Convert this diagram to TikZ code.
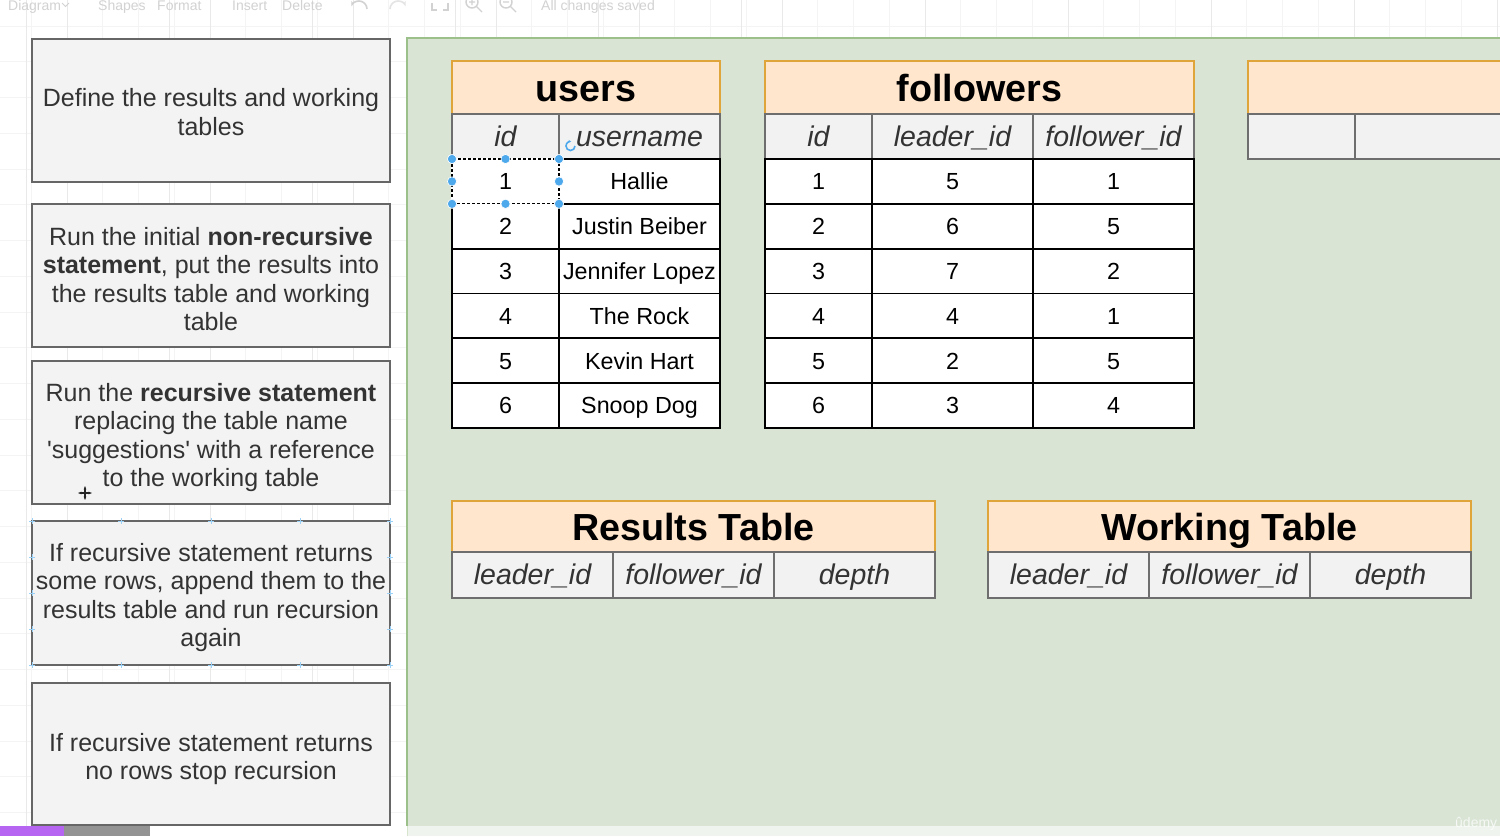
\documentclass[tikz,border=0pt]{standalone}
\usepackage{fontspec}
\setmainfont{Liberation Sans}
\newfontfamily\plainquote{Liberation Sans}
\usetikzlibrary{arrows.meta}
\newcommand\mysz[2]{\fontsize{#1pt}{#2pt}\selectfont}
\newcommand\sq{{\plainquote\symbol{39}}}
\definecolor{boxfill}{HTML}{F3F3F3}
\definecolor{boxline}{HTML}{666666}
\definecolor{boxtext}{HTML}{333333}
\definecolor{greenbg}{RGB}{217,228,213}
\definecolor{greenline}{HTML}{9CC089}
\definecolor{hdrfill}{HTML}{FFE6CC}
\definecolor{hdrline}{HTML}{DFA43A}
\definecolor{colfill}{HTML}{F2F2F2}
\definecolor{colline}{HTML}{6E6E6E}
\definecolor{selblue}{HTML}{4DA9EC}
\definecolor{tbgray}{HTML}{D2D2D2}
\definecolor{gridminor}{HTML}{F4F4F4}
\definecolor{gridmajor}{HTML}{E9E9E9}
\definecolor{barpurple}{HTML}{B565F2}
\begin{document}
\begin{tikzpicture}[x=1pt,y=-1pt,
  leftbox/.style={draw=boxline, fill=boxfill, line width=1.6pt, inner sep=0pt, outer sep=0pt,
    minimum width=358pt, minimum height=#1, anchor=north west},
  steptext/.style={inner sep=0pt, align=center, text=boxtext, font=\mysz{25}{28.5}},
  hdr/.style={draw=hdrline, fill=hdrfill, line width=1.5pt, inner sep=0pt, outer sep=0pt,
    anchor=north west, text height=27pt, text depth=0pt, font=\bfseries\mysz{37.7}{40}},
  colhdr/.style={draw=colline, fill=colfill, line width=1.5pt, inner sep=0pt, outer sep=0pt,
    anchor=north west, minimum height=45pt, text height=19pt, text depth=0pt,
    text=boxtext, font=\itshape\mysz{28.5}{30}},
  datacell/.style={draw=black, fill=white, line width=1.8pt, inner sep=0pt, outer sep=0pt,
    anchor=north west, minimum height=44.83pt, text height=16.7pt, text depth=0pt,
    font=\mysz{23.3}{26}},
  tbtext/.style={anchor=base west, inner sep=0pt, text=tbgray, font=\mysz{14}{16}},
  handle/.style={fill=selblue, draw=white, line width=0.6pt},
  tick/.style={draw=selblue!55, line width=0.8pt}
]
\useasboundingbox (0,0) rectangle (1500,836);
\clip (0,0) rectangle (1500,836);
% background and grid
\fill[white] (0,0) rectangle (1500,836);
\foreach \k in {0,...,41} {\draw[gridminor, line width=0.8pt] ({31.25+35.75*\k},0) -- ({31.25+35.75*\k},836);}
\foreach \k in {0,...,22} {\draw[gridminor, line width=0.8pt] (0,{26+35.75*\k}) -- (1500,{26+35.75*\k});}
\foreach \k in {0,...,10} {\draw[gridmajor, line width=0.8pt] ({67+143*\k},0) -- ({67+143*\k},836);}
\foreach \k in {0,...,5} {\draw[gridmajor, line width=0.8pt] ({26+143*\k},0) -- ({26+143*\k},836);}

% toolbar (faint)
\node[tbtext] (tb1) at (8,10) {Diagram};
\draw[tbgray, line width=1pt] (62,3) -- (65.5,6.5) -- (69,3);
\node[tbtext] (tb2) at (98,10) {Shapes};
\node[tbtext] (tb3) at (157,10) {Format};
\node[tbtext] (tb4) at (232,10) {Insert};
\node[tbtext] (tb5) at (282,10) {Delete};
\draw[tbgray, line width=1.6pt, -{Stealth[length=5pt]}] (367,9) arc[start angle=0, end angle=-160, radius=8];
\draw[tbgray!60, line width=1.6pt, -{Stealth[length=5pt]}] (390,9) arc[start angle=180, end angle=340, radius=8];
\draw[tbgray, line width=1.4pt] (432,3) -- (432,10) -- (437,10) (443,10) -- (448,10) -- (448,3);
\draw[tbgray, line width=1.4pt] (472,2) circle[radius=6] (476,6) -- (482,12) (469,2) -- (475,2) (472,-1) -- (472,5);
\draw[tbgray, line width=1.4pt] (506,2) circle[radius=6] (510,6) -- (516,12) (503,2) -- (509,2);
\node[tbtext] (tb6) at (541,10) {All changes saved};

% left step boxes
\node[leftbox=143pt] (b1) at (32,39) {};
\node[leftbox=143pt] (b2) at (32,204) {};
\node[leftbox=143pt] (b3) at (32,361) {};
\node[leftbox=144pt] (b4) at (32,521) {};
\node[leftbox=142pt] (b5) at (32,683) {};
\node[steptext] (t1) at ([yshift=-1.5pt]b1.center) {Define the results and working\\tables};
\node[steptext] (t2) at ([yshift=-3.5pt]b2.center) {Run the initial \textbf{non-recursive}\\\textbf{statement}, put the results into\\the results table and working\\table};
\node[steptext] (t3) at ([yshift=-5pt]b3.center) {Run the \textbf{recursive statement}\\replacing the table name\\\sq suggestions\sq{} with a reference\\to the working table};
\node[steptext] (t4) at ([yshift=-4.5pt]b4.center) {If recursive statement returns\\some rows, append them to the\\results table and run recursion\\again};
\node[steptext] (t5) at ([yshift=-5pt]b5.center) {If recursive statement returns\\no rows stop recursion};
% selection ticks on box 4
\foreach \x in {32,121,211,300,390} {
  \draw[tick] (\x-3,521) -- (\x+3,521) (\x,518) -- (\x,524);
  \draw[tick] (\x-3,665) -- (\x+3,665) (\x,662) -- (\x,668);}
\foreach \y in {557,593,629} {
  \draw[tick] (29,\y) -- (35,\y) (32,\y-3) -- (32,\y+3);
  \draw[tick] (387,\y) -- (393,\y) (390,\y-3) -- (390,\y+3);}
% move cursor
\draw[black!85, line width=1.4pt, {Stealth[length=3.5pt]}-{Stealth[length=3.5pt]}] (78,493) -- (92,493);
\draw[black!85, line width=1.4pt, {Stealth[length=3.5pt]}-{Stealth[length=3.5pt]}] (85,486) -- (85,500);

% green canvas area
\fill[greenbg] (407,38) rectangle (1502,836);
\draw[greenline, line width=1.5pt] (407,836) -- (407,38) -- (1502,38);

% users table
\node[hdr, minimum width=268pt, minimum height=53pt] (uh) at (452,61) {users};
\node[colhdr, minimum width=107pt] (uc1) at (452,114) {id};
\node[colhdr, minimum width=161pt] (uc2) at (559,114) {username};
\foreach \a/\b [count=\i] in {1/Hallie, 2/Justin Beiber, 3/Jennifer Lopez, 4/The Rock, 5/Kevin Hart, 6/Snoop Dog} {
  \node[datacell, minimum width=107pt] (u-\i-1) at (452,{159+44.83*(\i-1)}) {\a};
  \node[datacell, minimum width=161pt] (u-\i-2) at (559,{159+44.83*(\i-1)}) {\b};
}

% followers table
\node[hdr, minimum width=429pt, minimum height=53pt] (fh) at (765,61) {followers};
\node[colhdr, minimum width=107pt] (fc1) at (765,114) {id};
\node[colhdr, minimum width=161pt] (fc2) at (872,114) {leader\_id};
\node[colhdr, minimum width=161pt] (fc3) at (1033,114) {follower\_id};
\foreach \a/\b/\c [count=\i] in {1/5/1, 2/6/5, 3/7/2, 4/4/1, 5/2/5, 6/3/4} {
  \node[datacell, minimum width=107pt] (f-\i-1) at (765,{159+44.83*(\i-1)}) {\a};
  \node[datacell, minimum width=161pt] (f-\i-2) at (872,{159+44.83*(\i-1)}) {\b};
  \node[datacell, minimum width=161pt] (f-\i-3) at (1033,{159+44.83*(\i-1)}) {\c};
}

% third (partial) table
\node[hdr, minimum width=270pt, minimum height=53pt] (ph) at (1248,61) {};
\node[colhdr, minimum width=107pt] (pc1) at (1248,114) {};
\node[colhdr, minimum width=163pt] (pc2) at (1355,114) {};

% results table
\node[hdr, minimum width=483pt, minimum height=51pt] (rh) at (452,501) {Results Table};
\node[colhdr, minimum width=161pt, minimum height=46pt] (rc1) at (452,552) {leader\_id};
\node[colhdr, minimum width=161pt, minimum height=46pt] (rc2) at (613,552) {follower\_id};
\node[colhdr, minimum width=161pt, minimum height=46pt] (rc3) at (774,552) {depth};

% working table
\node[hdr, minimum width=483pt, minimum height=51pt] (wh) at (988,501) {Working Table};
\node[colhdr, minimum width=161pt, minimum height=46pt] (wc1) at (988,552) {leader\_id};
\node[colhdr, minimum width=161pt, minimum height=46pt] (wc2) at (1149,552) {follower\_id};
\node[colhdr, minimum width=161pt, minimum height=46pt] (wc3) at (1310,552) {depth};

% selection on cell (u-1-1)
\draw[white, line width=2.2pt] (u-1-1.north west) rectangle (u-1-1.south east);
\draw[black, line width=1.2pt, dash pattern=on 3pt off 2pt] (u-1-1.north west) rectangle (u-1-1.south east);
\foreach \p in {north west, north, north east, west, east, south west, south, south east} {
  \fill[handle] (u-1-1.\p) circle[radius=4.6];
}
\draw[selblue, line width=1.6pt, -{Stealth[length=3pt]}] (575,146) arc[start angle=0, end angle=280, radius=4.5];

% bottom strip
\fill[white] (0,826) rectangle (407,836);
\fill[white, opacity=0.6] (407,826) rectangle (1500,836);
\fill[barpurple] (0,826) rectangle (64,836);
\fill[gray!85] (64,826) rectangle (150,836);
\node[anchor=base west, inner sep=0pt, text=white, opacity=0.75, font=\mysz{14}{16}] (wm) at (1455,827) {ûdemy};
\end{tikzpicture}
\end{document}
